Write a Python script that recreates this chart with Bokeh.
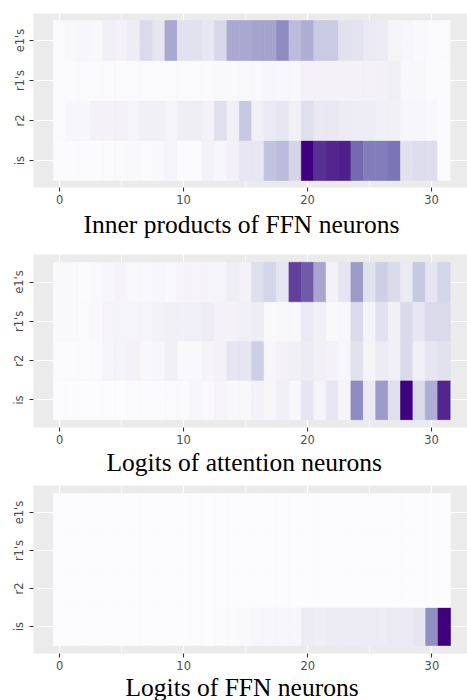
from bokeh.plotting import figure
from bokeh.models import (LinearColorMapper, FactorRange, Range1d, FixedTicker,
                          Title, ColumnDataSource)
from bokeh.layouts import column
from bokeh.palettes import Purples256
from bokeh.embed import file_html
from bokeh.resources import INLINE

rows = ["is", "r2", "r1's", "e1's"]
neurons = list(range(32))
x_ticks = [0, 10, 20, 30]
x_minor = [5, 15, 25]

titles = ["Inner products of FFN neurons",
          "Logits of attention neurons",
          "Logits of FFN neurons"]

# Panel 1: inner products of FFN neurons (scaled 0..1)
ffn_ip_is = [0.01, 0.01, 0.01, 0.01, 0.02, 0.02, 0.03, 0.02, 0.03, 0.07, 0.01, 0.01, 0.08, 0.05, 0.09, 0.17,
             0.17, 0.35, 0.38, 0.27, 1.00, 0.85, 0.88, 0.90, 0.68, 0.62, 0.62, 0.65, 0.20, 0.23, 0.23, 0.01]
ffn_ip_r2 = [0.02, 0.05, 0.05, 0.08, 0.08, 0.08, 0.07, 0.10, 0.10, 0.07, 0.12, 0.12, 0.08, 0.22, 0.10, 0.33,
             0.10, 0.15, 0.17, 0.10, 0.22, 0.16, 0.16, 0.14, 0.13, 0.13, 0.10, 0.10, 0.05, 0.05, 0.04, 0.01]
ffn_ip_r1 = [0.02, 0.02, 0.02, 0.02, 0.02, 0.02, 0.02, 0.02, 0.02, 0.02, 0.02, 0.02, 0.02, 0.03, 0.03, 0.03,
             0.03, 0.05, 0.04, 0.04, 0.08, 0.08, 0.08, 0.08, 0.08, 0.08, 0.09, 0.11, 0.04, 0.04, 0.02, 0.01]
ffn_ip_e1 = [0.02, 0.04, 0.05, 0.04, 0.10, 0.08, 0.13, 0.25, 0.18, 0.45, 0.20, 0.20, 0.17, 0.26, 0.45, 0.45,
             0.47, 0.47, 0.56, 0.38, 0.43, 0.32, 0.32, 0.20, 0.19, 0.15, 0.14, 0.07, 0.05, 0.03, 0.02, 0.02]

# Panel 2: logits of attention neurons
att_is = [0.00, 0.00, 0.00, 0.00, 0.00, 0.00, 0.01, 0.01, 0.01, 0.02, 0.02, 0.05, 0.03, 0.06, 0.04, 0.04,
          0.08, 0.05, 0.10, 0.04, 0.18, 0.06, 0.17, 0.06, 0.56, 0.15, 0.50, 0.22, 1.00, 0.25, 0.43, 0.88]
att_r2 = [0.01, 0.01, 0.01, 0.02, 0.07, 0.07, 0.08, 0.04, 0.05, 0.10, 0.03, 0.03, 0.06, 0.08, 0.18, 0.18,
          0.30, 0.05, 0.08, 0.10, 0.14, 0.10, 0.08, 0.05, 0.20, 0.07, 0.14, 0.10, 0.25, 0.10, 0.18, 0.20]
att_r1 = [0.03, 0.03, 0.02, 0.03, 0.06, 0.07, 0.07, 0.07, 0.08, 0.10, 0.10, 0.10, 0.13, 0.08, 0.08, 0.10,
          0.13, 0.03, 0.04, 0.04, 0.15, 0.10, 0.03, 0.04, 0.25, 0.07, 0.20, 0.10, 0.25, 0.17, 0.25, 0.25]
att_e1 = [0.03, 0.03, 0.01, 0.03, 0.05, 0.06, 0.03, 0.03, 0.05, 0.03, 0.06, 0.06, 0.06, 0.07, 0.12, 0.08,
          0.22, 0.27, 0.18, 0.80, 0.72, 0.46, 0.08, 0.18, 0.50, 0.20, 0.30, 0.25, 0.15, 0.33, 0.18, 0.27]

# Panel 3: logits of FFN neurons
ffn_lg_is = [0.00, 0.00, 0.00, 0.00, 0.00, 0.00, 0.00, 0.00, 0.00, 0.00, 0.00, 0.00, 0.00, 0.01, 0.02, 0.03,
             0.05, 0.05, 0.05, 0.05, 0.14, 0.12, 0.14, 0.14, 0.14, 0.14, 0.14, 0.15, 0.15, 0.18, 0.55, 1.00]
ffn_lg_r2 = [0.00] * 32
ffn_lg_r1 = [0.00] * 32
ffn_lg_e1 = [0.00] * 32

mapper = LinearColorMapper(palette=list(reversed(Purples256)), low=0, high=1)


def make_panel(grid, title, top, left, frame_w, frame_h, bottom, pad, x_end,
               title_standoff, title_offset):
    xs, ys, vs = [], [], []
    for r, vals in zip(rows, grid):
        for n, v in zip(neurons, vals):
            xs.append(n)
            ys.append(r)
            vs.append(v)
    src = ColumnDataSource(dict(x=xs, y=ys, v=vs))
    p = figure(frame_width=frame_w, frame_height=frame_h, title=None,
               x_range=Range1d(-2.1, x_end),
               y_range=FactorRange(*rows, range_padding=pad, range_padding_units="absolute"),
               output_backend="svg", toolbar_location=None,
               min_border_top=top, min_border_left=left, min_border_right=0,
               min_border_bottom=bottom,
               background_fill_color="#ebebeb", border_fill_color="white",
               outline_line_color=None)
    p.rect(x="x", y="y", width=1, height=1, source=src,
           fill_color={"field": "v", "transform": mapper},
           line_color={"field": "v", "transform": mapper}, line_width=0.6)

    p.xaxis.ticker = FixedTicker(ticks=x_ticks)
    p.xgrid.ticker = FixedTicker(ticks=x_ticks, minor_ticks=x_minor)
    p.xgrid.grid_line_color = "white"
    p.xgrid.grid_line_width = 1.2
    p.xgrid.minor_grid_line_color = "white"
    p.xgrid.minor_grid_line_width = 0.6
    p.ygrid.grid_line_color = "white"
    p.ygrid.grid_line_width = 1.2

    for ax in (p.xaxis[0], p.yaxis[0]):
        ax.axis_line_color = None
        ax.major_tick_line_color = "#333333"
        ax.major_tick_line_width = 1.1
        ax.major_tick_out = 4
        ax.major_tick_in = 0
        ax.minor_tick_out = 0
        ax.minor_tick_in = 0
        ax.major_label_text_color = "#4d4d4d"
        ax.major_label_text_font = "DejaVu Sans"
        ax.major_label_text_font_size = "11.5px"
        ax.major_label_standoff = 3
    p.yaxis.major_label_orientation = "vertical"

    p.add_layout(Title(text=title, align="left", text_font="Liberation Serif",
                       text_font_size="25.5px", text_font_style="normal",
                       text_color="black", standoff=title_standoff,
                       offset=title_offset), "below")
    return p


p1 = make_panel([ffn_ip_is, ffn_ip_r2, ffn_ip_r1, ffn_ip_e1], titles[0],
                13, 33, 434, 174, 57, 0.175, 32.9, 2, 50)
p2 = make_panel([att_is, att_r2, att_r1, att_e1], titles[1],
                10, 33, 434, 173, 52, 0.2, 32.9, -1, 73)
p3 = make_panel([ffn_lg_is, ffn_lg_r2, ffn_lg_r1, ffn_lg_e1], titles[2],
                6, 31, 436, 168, 47, 0.21, 33.03, -4, 92)

layout = column(p1, p2, p3, spacing=0)
open("out.html", "w").write(file_html(layout, INLINE))
